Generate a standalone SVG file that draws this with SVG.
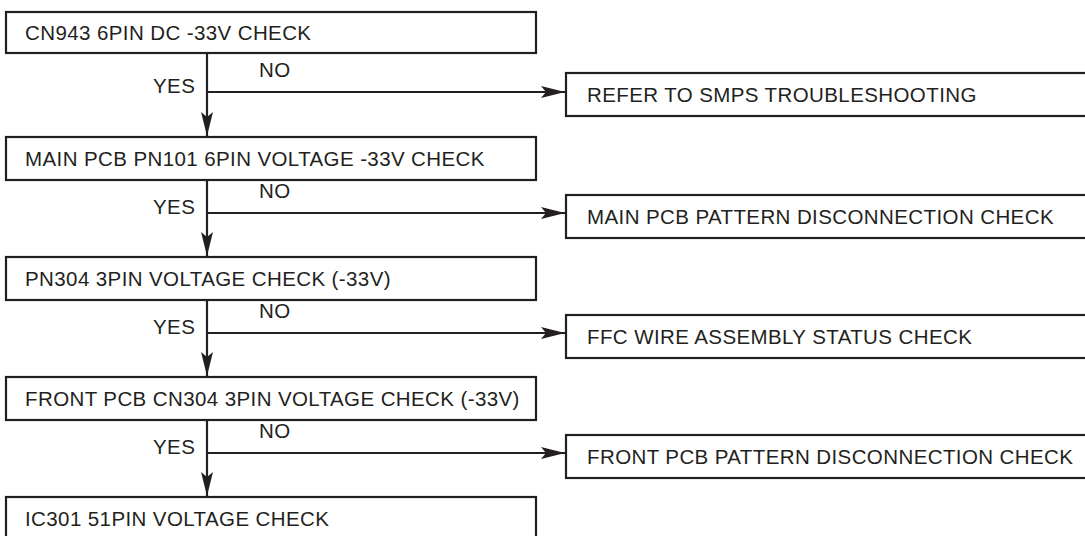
<svg xmlns="http://www.w3.org/2000/svg" width="1085" height="536" viewBox="0 0 1085 536">
<defs>
<style>
.box{fill:#fff;stroke:#231f20;stroke-width:2.2}
.t{font-family:"Liberation Sans",Arial,sans-serif;font-size:20.5px;letter-spacing:0.4px;fill:#231f20}
.ln{stroke:#231f20;stroke-width:2.2;fill:none}
</style>
<marker id="ah" viewBox="0 0 24 12" refX="24" refY="6" markerWidth="24" markerHeight="12" markerUnits="userSpaceOnUse" orient="auto">
<path d="M0,0 L24,6 L0,12 L5,6 Z" fill="#231f20"/>
</marker>
</defs>
<rect width="1085" height="536" fill="#fff"/>
<g id="connectors">
<line class="ln" x1="207" y1="53" x2="207" y2="136" marker-end="url(#ah)"/>
<line class="ln" x1="207" y1="92" x2="565" y2="92" marker-end="url(#ah)"/>
<line class="ln" x1="207" y1="180" x2="207" y2="256" marker-end="url(#ah)"/>
<line class="ln" x1="207" y1="213" x2="565" y2="213" marker-end="url(#ah)"/>
<line class="ln" x1="207" y1="300" x2="207" y2="376" marker-end="url(#ah)"/>
<line class="ln" x1="207" y1="333" x2="565" y2="333" marker-end="url(#ah)"/>
<line class="ln" x1="207" y1="420" x2="207" y2="496" marker-end="url(#ah)"/>
<line class="ln" x1="207" y1="453" x2="565" y2="453" marker-end="url(#ah)"/>
<text class="t" x="153" y="93">YES</text>
<text class="t" x="259" y="77">NO</text>
<text class="t" x="153" y="214">YES</text>
<text class="t" x="259" y="198">NO</text>
<text class="t" x="153" y="334">YES</text>
<text class="t" x="259" y="318">NO</text>
<text class="t" x="153" y="454">YES</text>
<text class="t" x="259" y="438">NO</text>
</g>
<g id="n1"><rect class="box" x="6" y="12" width="530" height="41"/><text class="t" x="25" y="40">CN943 6PIN DC -33V CHECK</text></g>
<g id="n2"><rect class="box" x="6" y="137" width="530" height="43"/><text class="t" x="25" y="166">MAIN PCB PN101 6PIN VOLTAGE -33V CHECK</text></g>
<g id="n3"><rect class="box" x="6" y="257" width="530" height="43"/><text class="t" x="25" y="286">PN304 3PIN VOLTAGE CHECK (-33V)</text></g>
<g id="n4"><rect class="box" x="6" y="377" width="530" height="43"/><text class="t" x="25" y="406">FRONT PCB CN304 3PIN VOLTAGE CHECK (-33V)</text></g>
<g id="n5"><rect class="box" x="6" y="497" width="530" height="50"/><text class="t" x="25" y="526">IC301 51PIN VOLTAGE CHECK</text></g>
<g id="r1"><rect class="box" x="566" y="73" width="530" height="43"/><text class="t" x="587" y="102">REFER TO SMPS TROUBLESHOOTING</text></g>
<g id="r2"><rect class="box" x="566" y="195" width="530" height="43"/><text class="t" x="587" y="224">MAIN PCB PATTERN DISCONNECTION CHECK</text></g>
<g id="r3"><rect class="box" x="566" y="315" width="530" height="43"/><text class="t" x="587" y="344">FFC WIRE ASSEMBLY STATUS CHECK</text></g>
<g id="r4"><rect class="box" x="566" y="435" width="530" height="43"/><text class="t" x="587" y="464">FRONT PCB PATTERN DISCONNECTION CHECK</text></g>
</svg>
